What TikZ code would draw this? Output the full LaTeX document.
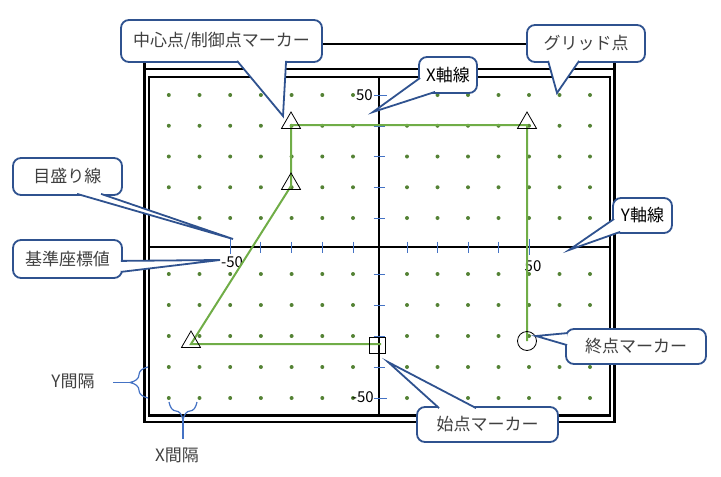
\documentclass[tikz,border=0pt]{standalone}
\usepackage{fontspec}
\setmainfont{Noto Sans CJK JP}
\usetikzlibrary{calc,decorations.pathreplacing,shapes.geometric}

\definecolor{calloutblue}{HTML}{2F528F}
\definecolor{tickblue}{HTML}{4472C4}
\definecolor{dotgreen}{HTML}{548235}
\definecolor{routegreen}{HTML}{70AD47}
\definecolor{labelgray}{HTML}{404040}

\begin{document}
\begin{tikzpicture}[x=1pt, y=-1pt,
  frame/.style={line width=2.2pt},
  axis/.style={line width=1.2pt},
  callbox/.style={draw=calloutblue, line width=1.8pt, fill=white, rounded corners=8pt,
    inner sep=0pt, text=labelgray, font=\fontsize{17}{20}\selectfont},
  wedge/.style={draw=calloutblue, line width=1.8pt, fill=white},
  tickmark/.style={tickblue, line width=1pt},
  route/.style={routegreen, line width=2pt},
  marker/.style={draw=black, line width=0.8pt, inner sep=0pt},
  num/.style={font=\fontsize{15}{18}\selectfont, inner sep=0pt},
  gap/.style={tickblue, line width=1.2pt},
  gaplabel/.style={text=labelgray, font=\fontsize{17}{20}\selectfont}
]
\useasboundingbox (0,0) rectangle (721,477);

% frame
\draw[frame] (144.5,44) rectangle (614.5,422);
\draw[frame] (144.5,69) -- (614.5,69);
\draw[frame] (149,77) rectangle (610,415.5);

% axes
\draw[axis] (149,247) -- (610,247);
\draw[axis] (379,77) -- (379,415.5);

% grid points
\foreach \c in {0,...,6}
\foreach \r in {0,...,4}
{
\fill[dotgreen] (168.8+30.7*\c, 95+30.75*\r) circle (2pt);
\fill[dotgreen] (168.8+30.7*\c, 274+31*\r) circle (2pt);
\fill[dotgreen] (407+30.5*\c, 95+30.75*\r) circle (2pt);
\fill[dotgreen] (407+30.5*\c, 274+31*\r) circle (2pt);
}

% ticks
\foreach \k in {0,...,3}
{
\draw[tickmark] (353-30.7*\k, 241.5) -- (353-30.7*\k, 252.5);
\draw[tickmark] (407+30.5*\k, 241.5) -- (407+30.5*\k, 252.5);
\draw[tickmark] (373.5, 126+30.75*\k) -- (384.5, 126+30.75*\k);
\draw[tickmark] (373.5, 274+31*\k) -- (384.5, 274+31*\k);
}
\draw[tickmark] (230.2, 238) -- (230.2, 254);
\draw[tickmark] (529, 239) -- (529, 255);
\draw[tickmark] (374, 95) -- (387, 95);
\draw[tickmark] (374, 398) -- (387, 398);

\node[num] (xMinus) at (232,262) {-50};
\node[num] (xPlus) at (533,266) {50};
\node[num, anchor=east] (yTopVal) at (373,95) {50};
\node[num, anchor=east] (yBotVal) at (374,397) {-50};

% route
\coordinate (p0) at (381,344);
\coordinate (p1) at (191,344);
\coordinate (p2) at (291,186);
\coordinate (p3) at (291,125);
\coordinate (p4) at (527,125);
\coordinate (p5) at (527,341);
\draw[route] (p0) -- (p1) -- (p2) -- (p3) -- (p4) -- (p5);

\node[marker, minimum size=16pt] (mStart) at (377,345) {};
\node[marker, regular polygon, regular polygon sides=3, minimum size=22pt] (mTri1) at ($(p1)+(0,-2)$) {};
\node[marker, regular polygon, regular polygon sides=3, minimum size=22pt] (mTri2) at ($(p2)+(0,-2)$) {};
\node[marker, regular polygon, regular polygon sides=3, minimum size=22pt] (mTri3) at ($(p3)+(0,-2)$) {};
\node[marker, regular polygon, regular polygon sides=3, minimum size=22pt] (mTri4) at ($(p4)+(0,-2)$) {};
\node[marker, circle, minimum size=19pt] (mEnd) at (p5) {};

% spacing braces
\coordinate (yTop) at (148,367);
\coordinate (yBot) at (148,398);
\coordinate (yTip) at (130,382.5);
\coordinate (yStem) at (113,382.5);
\draw[gap, decorate, decoration={brace, amplitude=18pt}] (yBot) -- (yTop);
\draw[gap] (yTip) -- (yStem);
\node[gaplabel] (yGap) at (73,381) {Y間隔};

\coordinate (xLeft) at (169,402);
\coordinate (xRight) at (197,402);
\coordinate (xTip) at (183,420);
\coordinate (xStem) at (183,439);
\draw[gap, decorate, decoration={brace, amplitude=18pt}] (xRight) -- (xLeft);
\draw[gap] (xTip) -- (xStem);
\node[gaplabel] (xGap) at (177,455) {X間隔};

% callouts
\node[callbox, minimum width=201pt, minimum height=42pt] (cMark) at (221.5,41) {中心点/制御点マーカー};
\coordinate (tMark) at (283,116);
\filldraw[wedge] ($(cMark.south west)+(117,-2)$) -- (tMark) -- ($(cMark.south west)+(166,-2)$);

\node[callbox, minimum width=58pt, minimum height=36pt, text=black] (cXaxis) at (448,75) {X軸線};
\coordinate (tXaxis) at (373,112);
\filldraw[wedge] ($(cXaxis.south west)+(2,-16)$) -- (tXaxis) -- ($(cXaxis.south west)+(17,-2)$);

\node[callbox, minimum width=118pt, minimum height=37pt] (cGrid) at (586,43.5) {グリッド点};
\coordinate (tGrid) at (557,93);
\filldraw[wedge] ($(cGrid.south west)+(22,-2)$) -- (tGrid) -- ($(cGrid.south west)+(53,-2)$);

\node[callbox, minimum width=109pt, minimum height=37pt] (cTick) at (67.5,176.5) {目盛り線};
\coordinate (tTick) at (233,239);
\filldraw[wedge] ($(cTick.south west)+(65,-2)$) -- (tTick) -- ($(cTick.south west)+(89,-2)$);

\node[callbox, minimum width=109pt, minimum height=38pt] (cValue) at (67.5,259) {基準座標値};
\coordinate (tValue) at (220,260);
\filldraw[wedge] ($(cValue.south east)+(-2,-18)$) -- (tValue) -- ($(cValue.south east)+(-2,-7)$);

\node[callbox, minimum width=59pt, minimum height=35pt, text=black] (cYaxis) at (642.5,215.5) {Y軸線};
\coordinate (tYaxis) at (569,250);
\filldraw[wedge] ($(cYaxis.south west)+(2,-15)$) -- (tYaxis) -- ($(cYaxis.south west)+(8,-2)$);

\node[callbox, minimum width=140pt, minimum height=35pt] (cEnd) at (636,346.5) {終点マーカー};
\coordinate (tEnd) at (536,336);
\filldraw[wedge] ($(cEnd.north west)+(2,5)$) -- (tEnd) -- ($(cEnd.north west)+(2,17)$);

\node[callbox, minimum width=141pt, minimum height=35pt] (cStart) at (487.5,424.5) {始点マーカー};
\coordinate (tStart) at (388,362);
\filldraw[wedge] ($(cStart.north west)+(23,2)$) -- (tStart) -- ($(cStart.north west)+(60,2)$);
\end{tikzpicture}
\end{document}
